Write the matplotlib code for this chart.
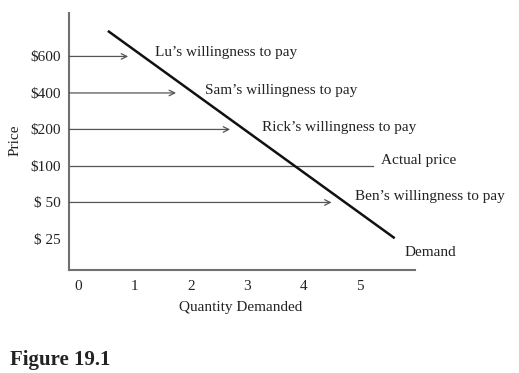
import matplotlib
matplotlib.use("Agg")
import matplotlib.pyplot as plt

plt.rcParams['font.family'] = ['Liberation Serif', 'DejaVu Serif']

# price levels shown on the axis (bottom to top)
price_labels = ['$ 25', '$ 50', '$100', '$200', '$400', '$600']
quantity_ticks = [0, 1, 2, 3, 4, 5]

# buyers: price level index and how far the arrow runs
buyers = ["Lu\u2019s willingness to pay", "Sam\u2019s willingness to pay",
          "Rick\u2019s willingness to pay", "Ben\u2019s willingness to pay"]
buyer_level = [5, 4, 3, 1]
buyer_reach = [0.89, 1.74, 2.70, 4.50]

actual_level = 2
actual_reach = 5.23

# demand curve end points (quantity, price level)
demand_q = [0.53, 5.62]
demand_p = [5.70, 0.02]

W, H = 519, 373
fig = plt.figure(figsize=(W / 100, H / 100), dpi=100)
ax = fig.add_axes([69 / W, (H - 270) / H, (415 - 69) / W, (270 - 13) / H])

x0 = -0.16
ax.set_xlim(x0, 5.98)
ax.set_ylim(-0.85, 6.19)

axcol = '#707070'
for s in ['top', 'right']:
    ax.spines[s].set_visible(False)
for s in ['left', 'bottom']:
    ax.spines[s].set_color(axcol)
    ax.spines[s].set_linewidth(1.5)

ax.set_yticks(range(len(price_labels)))
ax.set_yticklabels(price_labels)
ax.set_xticks(quantity_ticks)
ax.tick_params(length=0, labelsize=11, colors='#222222')
ax.tick_params(axis='y', pad=6)
ax.tick_params(axis='x', pad=7)

# willingness arrows
for lvl, reach in zip(buyer_level, buyer_reach):
    ax.annotate('', xy=(reach, lvl), xytext=(x0, lvl),
                arrowprops=dict(arrowstyle='->', color='#555555', lw=0.9,
                                shrinkA=0, shrinkB=0, mutation_scale=10))

# actual price line
ax.plot([x0, actual_reach], [actual_level, actual_level], color='#555555', lw=0.9)

# demand curve
ax.plot(demand_q, demand_p, color='#111111', lw=1.8, solid_capstyle='butt')

txt = dict(fontsize=11, color='#222222', va='center', ha='left')
ax.text(1.37, 5.12, buyers[0], **txt)
ax.text(2.25, 4.08, buyers[1], **txt)
ax.text(3.26, 3.06, buyers[2], **txt)
ax.text(5.37, 2.16, 'Actual price', **txt)
ax.text(4.91, 1.15, buyers[3], **txt)
ax.text(5.80, -0.36, 'Demand', **txt)

fig.text(15 / W, 1 - 140 / H, 'Price', rotation=90, fontsize=11,
         color='#222222', ha='center', va='center')
fig.text(241 / W, 1 - 307 / H, 'Quantity Demanded', fontsize=11,
         color='#222222', ha='center', va='center')
fig.text(10 / W, 1 - 360 / H, 'Figure 19.1', fontsize=15, fontweight='bold',
         color='#222222', ha='left', va='center')

fig.savefig('out.png', dpi=100)
